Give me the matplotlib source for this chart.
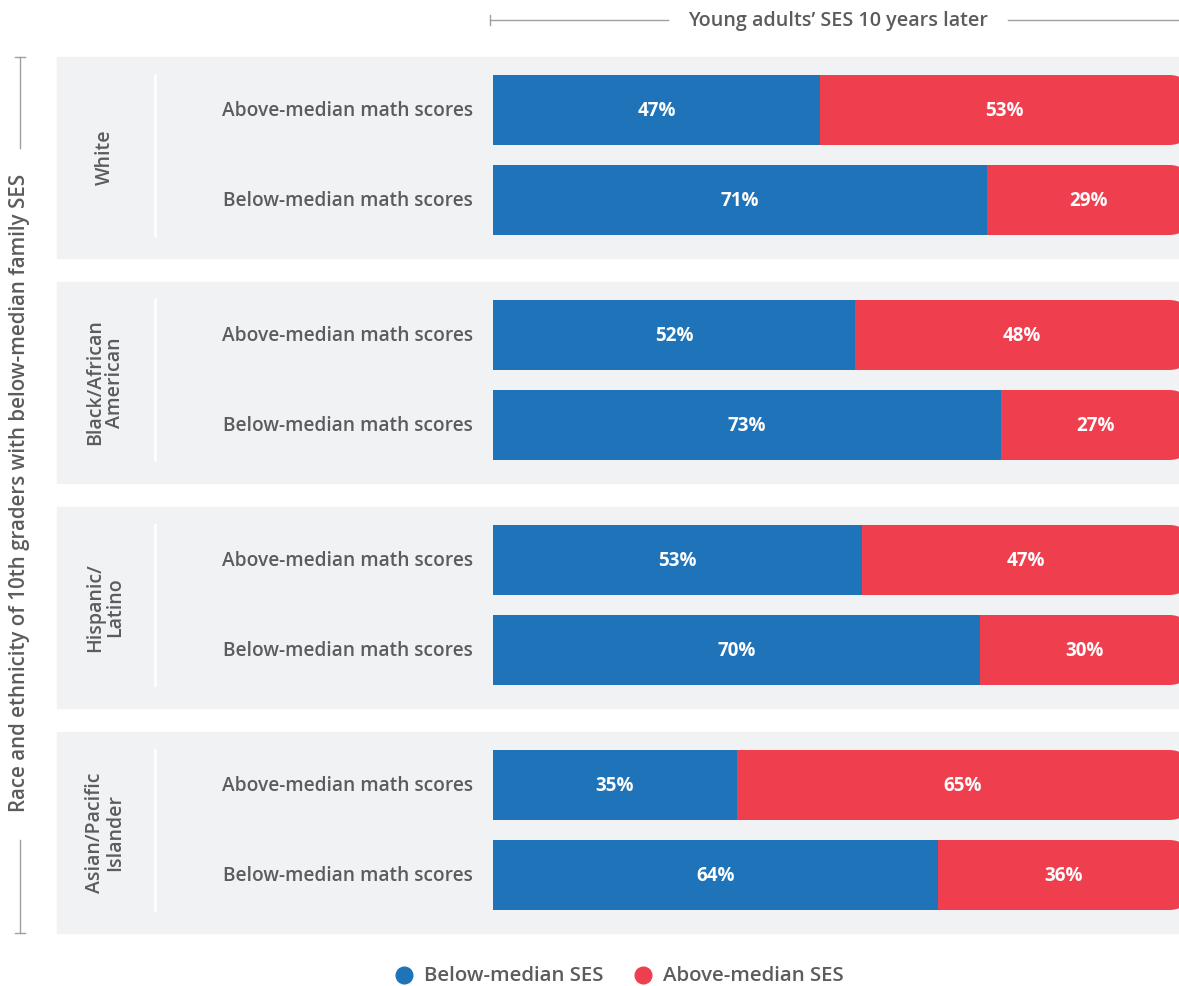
import matplotlib.pyplot as plt
from matplotlib.patches import Rectangle, FancyBboxPatch

plt.rcParams['font.family'] = ['Open Sans', 'DejaVu Sans']

groups = ['White', 'Black/African\nAmerican', 'Hispanic/\nLatino', 'Asian/Pacific\nIslander']
rows = ['Above-median math scores', 'Below-median math scores']
below_ses = [[47, 71], [52, 73], [53, 70], [35, 64]]
above_ses = [[53, 29], [48, 27], [47, 30], [65, 36]]
legend_labels = ['Below-median SES', 'Above-median SES']

BLUE = '#1f73b9'
RED = '#ef3f4f'
PANEL = '#f1f2f4'
TEXT = '#5c5c5c'
LINE = '#a0a0a0'

W, H = 1179, 986
fig = plt.figure(figsize=(W / 100, H / 100), dpi=100)

# background / decoration axes in pixel units
bg = fig.add_axes([0, 0, 1, 1])
bg.set_xlim(0, W)
bg.set_ylim(H, 0)
bg.axis('off')

PANEL_TOP = 57
PANEL_H = 201
PITCH = 225

for g, name in enumerate(groups):
    top = PANEL_TOP + g * PITCH
    bg.add_patch(Rectangle((57, top), W - 57, PANEL_H, color=PANEL, zorder=0))
    bg.plot([155, 155], [top + 18, top + 178], color='white', lw=2, zorder=1)
    bg.text(105, top + PANEL_H / 2, name, rotation=90, ha='center', va='center',
            fontsize=14, color=TEXT, fontweight='semibold', linespacing=1.0)

# header
bg.plot([490, 668], [20, 20], color=LINE, lw=1)
bg.plot([490, 490], [15, 25], color=LINE, lw=1)
bg.plot([1008, W], [20, 20], color=LINE, lw=1)
bg.text(838, 21, 'Young adults\u2019 SES 10 years later', ha='center', va='center',
        fontsize=14.2, color=TEXT, fontweight='semibold')

# left axis label
bg.plot([20, 20], [57, 148], color=LINE, lw=1)
bg.plot([15, 25], [57, 57], color=LINE, lw=1)
bg.plot([20, 20], [840, 933], color=LINE, lw=1)
bg.plot([15, 25], [933, 933], color=LINE, lw=1)
bg.text(20, 493, 'Race and ethnicity of 10th graders with below-median family SES',
        rotation=90, ha='center', va='center', fontsize=14.8, color=TEXT,
        fontweight='semibold')

# legend
for x, lab, col in zip([404, 643], legend_labels, [BLUE, RED]):
    bg.plot(x, 975, 'o', color=col, markersize=12)
    bg.text(x + 20, 976, lab, ha='left', va='center', fontsize=14.7,
            color=TEXT, fontweight='semibold')

# bar axes: x in percent, y in pixel offsets from panel top
ax = fig.add_axes([493 / W, (H - 933) / H, 696 / W, 876 / H])
ax.set_xlim(0, 100)
ax.set_ylim(876, 0)
ax.axis('off')
ax.patch.set_alpha(0)

px_per_pct = 696 / 100
radius = 20 / px_per_pct
bar_h = 70
for g in range(len(groups)):
    for r, row in enumerate(rows):
        yc = g * PITCH + 53 + r * 90
        b = below_ses[g][r]
        a = above_ses[g][r]
        ax.add_patch(FancyBboxPatch((0, yc - bar_h / 2), 100, bar_h,
                                    boxstyle=f'round,pad=0,rounding_size={radius}',
                                    mutation_aspect=px_per_pct, color=RED,
                                    lw=0, clip_on=False))
        ax.barh(yc, b, height=bar_h, color=BLUE, lw=0, zorder=3)
        ax.text(b / 2, yc + 1, f'{b}%', ha='center', va='center', color='white',
                fontsize=13.5, fontweight='bold', zorder=4)
        ax.text(b + a / 2, yc + 1, f'{a}%', ha='center', va='center', color='white',
                fontsize=13.5, fontweight='bold', zorder=4)
        ax.text(-20 / px_per_pct, yc + 1, row, ha='right', va='center', color=TEXT,
                fontsize=13.8, fontweight='semibold')

fig.savefig('out.png', dpi=100)
